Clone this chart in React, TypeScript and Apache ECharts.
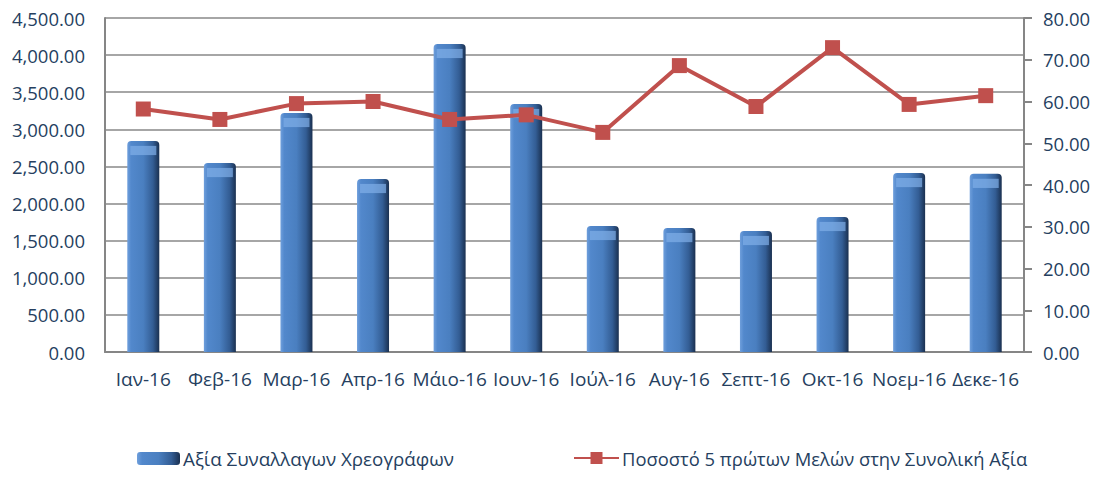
import React, { useEffect, useRef } from "react";
import * as echarts from "echarts";

const categories = ["Ιαν-16", "Φεβ-16", "Μαρ-16", "Απρ-16", "Μάιο-16", "Ιουν-16", "Ιούλ-16", "Αυγ-16", "Σεπτ-16", "Οκτ-16", "Νοεμ-16", "Δεκε-16"];
const tradeValue = [2843, 2546, 3220, 2331, 4150, 3341, 1698, 1670, 1630, 1819, 2411, 2400];
const top5Share = [58.2, 55.7, 59.5, 60.0, 55.7, 56.8, 52.6, 68.6, 58.8, 72.9, 59.3, 61.4];
const barName = "Αξία Συναλλαγων Χρεογράφων";
const lineName = "Ποσοστό 5 πρώτων Μελών στην Συνολική Αξία";

const textColor = "#263f5f";
const fontFamily = "'Open Sans', Roboto, 'Noto Sans', sans-serif";

const fmt = (v: number) =>
  v.toLocaleString("en-US", { minimumFractionDigits: 2, maximumFractionDigits: 2 });

export default function App() {
  const ref = useRef<HTMLDivElement>(null);
  useEffect(() => {
    if (!ref.current) return;
    const chart = echarts.init(ref.current, undefined, { renderer: "svg" });
    const barGradient = new echarts.graphic.LinearGradient(0, 0, 1, 0, [
      { offset: 0, color: "#6f9fdc" },
      { offset: 0.12, color: "#5288cc" },
      { offset: 0.5, color: "#4a7fc0" },
      { offset: 0.8, color: "#335d94" },
      { offset: 1, color: "#1a3050" },
    ]);
    chart.setOption({
      animation: false,
      backgroundColor: "#ffffff",
      textStyle: { fontFamily },
      grid: { left: 105, right: 77, top: 18, bottom: 126, containLabel: false },
      legend: [
        {
          data: [barName],
          left: 137,
          top: 449,
          padding: 0,
          itemWidth: 43,
          itemHeight: 13,
          itemGap: 4,
          textStyle: { color: textColor, fontSize: 18.8, fontFamily, padding: [0, 0, 0, -2] },
          selectedMode: false,
        },
        {
          data: [lineName],
          left: 573,
          top: 449,
          padding: 0,
          itemWidth: 45,
          itemHeight: 15,
          textStyle: { color: textColor, fontSize: 18.4, fontFamily, padding: [0, 0, 0, -2] },
          selectedMode: false,
        },
      ],
      xAxis: {
        type: "category",
        data: categories,
        axisLine: { show: true, lineStyle: { color: "#868686", width: 2 } },
        axisTick: { show: false },
        axisLabel: { color: textColor, fontSize: 19, margin: 17, interval: 0, fontFamily },
      },
      yAxis: [
        {
          type: "value",
          min: 0,
          max: 4500,
          interval: 500,
          axisLine: { show: true, lineStyle: { color: "#868686", width: 2 } },
          axisTick: { show: false },
          splitLine: { show: true, lineStyle: { color: "#a6a6a6", width: 2 } },
          axisLabel: { color: textColor, fontSize: 18.5, margin: 20, formatter: (v: number) => fmt(v), fontFamily },
        },
        {
          type: "value",
          min: 0,
          max: 80,
          interval: 10,
          position: "right",
          axisLine: { show: true, lineStyle: { color: "#868686", width: 2 } },
          axisTick: { show: true, inside: false, length: 8, lineStyle: { color: "#868686", width: 2 } },
          splitLine: { show: false },
          axisLabel: { color: textColor, fontSize: 18.5, margin: 19, formatter: (v: number) => fmt(v), fontFamily },
        },
      ],
      series: [
        {
          name: barName,
          type: "bar",
          data: tradeValue,
          barWidth: 32,
          yAxisIndex: 0,
          itemStyle: { color: barGradient, borderRadius: [4, 4, 0, 0] },
          z: 2,
        },
        {
          name: "top",
          type: "pictorialBar",
          data: tradeValue,
          symbol: "ellipse",
          symbolSize: [26, 9],
          symbolPosition: "end",
          symbolOffset: [0, 5],
          yAxisIndex: 0,
          itemStyle: { color: "#80afe8", opacity: 0.7 },
          z: 3,
          silent: true,
        },
        {
          name: lineName,
          type: "line",
          data: top5Share,
          yAxisIndex: 1,
          symbol: "rect",
          symbolSize: 15,
          lineStyle: { color: "#c0504d", width: 4 },
          itemStyle: { color: "#c0504d" },
          z: 5,
        },
      ],
    });
    return () => chart.dispose();
  }, []);
  return (
    <div
      ref={ref}
      style={{ position: "absolute", left: 0, top: 0, width: 1101, height: 478 }}
    />
  );
}
